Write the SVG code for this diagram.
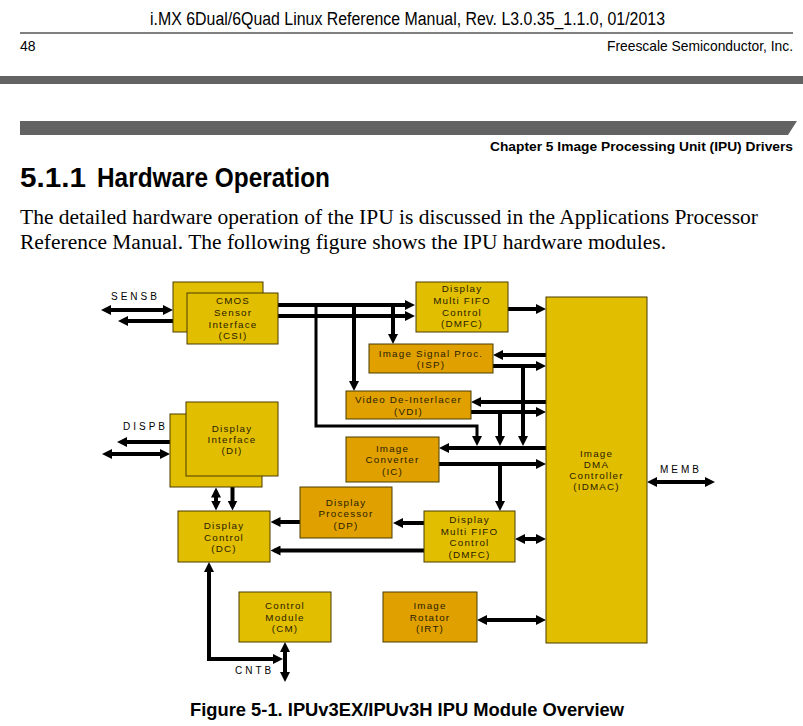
<svg xmlns="http://www.w3.org/2000/svg" width="803" height="726" viewBox="0 0 803 726">
<defs>
<style>
.hdr{font-family:"Liberation Sans Narrow","Liberation Sans",Arial,sans-serif;fill:#000}
.b{font-weight:bold}
.para{font-family:"Liberation Serif","Times New Roman",serif;font-size:20.5px;fill:#000}
.y{fill:#E1BE00;stroke:#4a3d00;stroke-width:1}
.o{fill:#DFA000;stroke:#4a3d00;stroke-width:1}
.t{font-family:"Liberation Sans",Arial,sans-serif;font-size:9.8px;letter-spacing:1.2px;fill:#2a2000;text-anchor:middle}
.lbl{font-family:"Liberation Sans",Arial,sans-serif;font-size:10px;letter-spacing:3px;fill:#000}
.w{fill:none;stroke:#000;stroke-width:4}
.thin{fill:none;stroke:#000;stroke-width:3}
.e{marker-end:url(#ah)}
.s{marker-start:url(#ah)}
</style>
<marker id="ah" viewBox="0 0 10 10" refX="6" refY="5" markerWidth="10" markerHeight="10" markerUnits="userSpaceOnUse" orient="auto-start-reverse"><path d="M0,0 L10,5 L0,10 z" fill="#000"/></marker>
</defs>
<rect width="803" height="726" fill="#fff"/>
<g id="page">
<text class="hdr" x="150" y="25" font-size="18" textLength="515" lengthAdjust="spacingAndGlyphs">i.MX 6Dual/6Quad Linux Reference Manual, Rev. L3.0.35_1.1.0, 01/2013</text>
<line x1="20" y1="33" x2="793" y2="33" stroke="#000" stroke-width="1"/>
<text class="hdr" x="20" y="51" font-size="14">48</text>
<text class="hdr" x="607" y="51" font-size="14.5" textLength="186" lengthAdjust="spacingAndGlyphs">Freescale Semiconductor, Inc.</text>
<rect x="0" y="76" width="803" height="8" fill="#636363"/>
<polygon points="20,121 797,121 788,135 20,135" fill="#636363"/>
<text class="hdr b" x="641.5" y="151" font-size="13.5" text-anchor="middle" textLength="303" lengthAdjust="spacingAndGlyphs">Chapter 5 Image Processing Unit (IPU) Drivers</text>
<text class="hdr b" x="20" y="187" font-size="27" textLength="66" lengthAdjust="spacingAndGlyphs">5.1.1</text>
<text class="hdr b" x="97" y="187" font-size="27" textLength="233" lengthAdjust="spacingAndGlyphs">Hardware Operation</text>
<text class="para" x="20" y="224" textLength="738" lengthAdjust="spacingAndGlyphs">The detailed hardware operation of the IPU is discussed in the Applications Processor</text>
<text class="para" x="20" y="249" textLength="646" lengthAdjust="spacingAndGlyphs">Reference Manual. The following figure shows the IPU hardware modules.</text>
<text class="hdr b" x="190" y="716" font-size="19" textLength="434" lengthAdjust="spacingAndGlyphs">Figure 5-1. IPUv3EX/IPUv3H IPU Module Overview</text>
</g>
<g id="connectors">
<line class="w e s" x1="105" y1="310" x2="169" y2="310"/>
<line class="w e s" x1="122" y1="321" x2="183" y2="321"/>
<line class="w e" x1="278" y1="305" x2="411" y2="305"/>
<line class="w e" x1="278" y1="316" x2="411" y2="316"/>
<line class="w e" x1="393" y1="305" x2="393" y2="340"/>
<line class="w e" x1="354" y1="305" x2="354" y2="387"/>
<path class="thin e" d="M316,305 V426 H477 V442"/>
<line class="w e" x1="508" y1="309" x2="542" y2="309"/>
<line class="w e" x1="546" y1="355" x2="497" y2="355"/>
<line class="w e" x1="493" y1="366" x2="542" y2="366"/>
<line class="w e" x1="523" y1="366" x2="523" y2="442"/>
<line class="w e" x1="546" y1="402" x2="475" y2="402"/>
<line class="w e" x1="471" y1="412" x2="542" y2="412"/>
<line class="w e" x1="500" y1="412" x2="500" y2="442"/>
<line class="w e" x1="546" y1="448" x2="443" y2="448"/>
<line class="w e" x1="439" y1="464" x2="542" y2="464"/>
<line class="w e" x1="500" y1="464" x2="500" y2="507"/>
<line class="w e s" x1="519" y1="539" x2="542" y2="539"/>
<line class="w e" x1="424" y1="523" x2="397" y2="523"/>
<line class="w e" x1="424" y1="550.5" x2="274.5" y2="550.5"/>
<line class="w e" x1="300" y1="522" x2="274.5" y2="522"/>
<line class="w e s" x1="216" y1="491.5" x2="216" y2="506.5"/>
<line class="w e s" x1="232.5" y1="480" x2="232.5" y2="506.5"/>
<line class="w e s" x1="106" y1="454" x2="166" y2="454"/>
<line class="w e s" x1="121" y1="442" x2="182" y2="442"/>
<line class="w e s" x1="651" y1="482" x2="711" y2="482"/>
<line class="w e s" x1="481" y1="620" x2="542" y2="620"/>
<path class="w e s" d="M279,659 H209 V566"/>
<line class="w e s" x1="285" y1="646" x2="285" y2="678"/>
</g>
<g id="csi">
<rect class="y" x="173" y="282" width="90" height="50"/>
<rect class="y" x="187" y="293" width="91" height="51"/>
<text class="t" x="233" y="304">CMOS</text>
<text class="t" x="233" y="316">Sensor</text>
<text class="t" x="233" y="327.5">Interface</text>
<text class="t" x="233" y="339">(CSI)</text>
<text class="lbl" x="111" y="300">SENSB</text>
</g>
<g id="dmfc-top">
<rect class="y" x="416" y="282" width="92" height="50"/>
<text class="t" x="462" y="292">Display</text>
<text class="t" x="462" y="304">Multi FIFO</text>
<text class="t" x="462" y="316">Control</text>
<text class="t" x="462" y="327">(DMFC)</text>
</g>
<g id="isp">
<rect class="o" x="369" y="344" width="124" height="29"/>
<text class="t" x="431" y="356.5">Image Signal Proc.</text>
<text class="t" x="431" y="368">(ISP)</text>
</g>
<g id="vdi">
<rect class="o" x="346" y="391" width="125" height="28"/>
<text class="t" x="408.5" y="402.5">Video De-Interlacer</text>
<text class="t" x="408.5" y="414.5">(VDI)</text>
</g>
<g id="ic">
<rect class="o" x="346" y="437" width="93" height="45"/>
<text class="t" x="392.5" y="451.5">Image</text>
<text class="t" x="392.5" y="463">Converter</text>
<text class="t" x="392.5" y="474.5">(IC)</text>
</g>
<g id="idmac">
<rect class="y" x="546" y="297" width="101" height="346"/>
<text class="t" x="596.5" y="456.5">Image</text>
<text class="t" x="596.5" y="467.5">DMA</text>
<text class="t" x="596.5" y="479">Controller</text>
<text class="t" x="596.5" y="490">(IDMAC)</text>
<text class="lbl" x="660" y="473">MEMB</text>
</g>
<g id="di">
<rect class="y" x="170" y="414" width="92" height="73"/>
<rect class="y" x="186" y="402" width="92" height="74"/>
<text class="t" x="232" y="431.5">Display</text>
<text class="t" x="232" y="442.5">Interface</text>
<text class="t" x="232" y="454">(DI)</text>
<text class="lbl" x="123" y="430">DISPB</text>
</g>
<g id="dp">
<rect class="o" x="300" y="487" width="92" height="51"/>
<text class="t" x="346" y="505.5">Display</text>
<text class="t" x="346" y="517">Processor</text>
<text class="t" x="346" y="528.5">(DP)</text>
</g>
<g id="dmfc-bottom">
<rect class="y" x="424" y="511" width="91" height="51"/>
<text class="t" x="469.5" y="523">Display</text>
<text class="t" x="469.5" y="534.5">Multi FIFO</text>
<text class="t" x="469.5" y="546">Control</text>
<text class="t" x="469.5" y="557.5">(DMFC)</text>
</g>
<g id="dc">
<rect class="y" x="178" y="511" width="92" height="51"/>
<text class="t" x="224" y="529">Display</text>
<text class="t" x="224" y="540.5">Control</text>
<text class="t" x="224" y="552">(DC)</text>
</g>
<g id="cm">
<rect class="y" x="239" y="592" width="92" height="50"/>
<text class="t" x="285" y="609">Control</text>
<text class="t" x="285" y="620.5">Module</text>
<text class="t" x="285" y="632">(CM)</text>
<text class="lbl" x="235" y="674">CNTB</text>
</g>
<g id="irt">
<rect class="o" x="383" y="592" width="94" height="50"/>
<text class="t" x="430" y="609">Image</text>
<text class="t" x="430" y="620.5">Rotator</text>
<text class="t" x="430" y="632">(IRT)</text>
</g>
</svg>
